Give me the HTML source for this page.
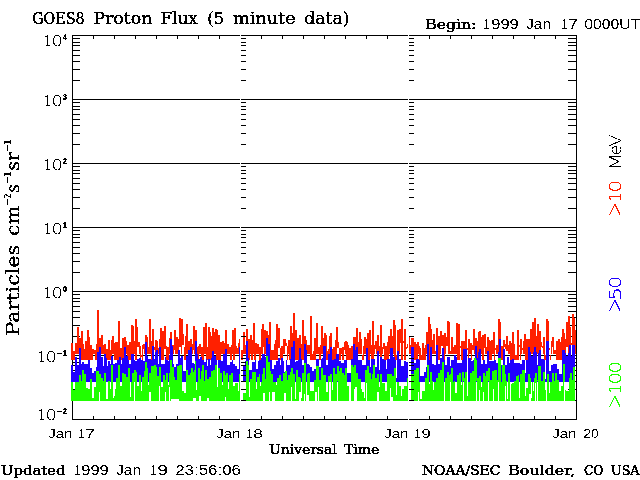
<!DOCTYPE html>
<html lang="en">
<head>
<meta charset="utf-8">
<title>GOES8 Proton Flux (5 minute data)</title>
<style>
html,body{margin:0;padding:0;background:#fff;overflow:hidden}
svg{display:block}
text{white-space:pre}
</style>
</head>
<body>
<svg width="640" height="480" viewBox="0 0 640 480">
<defs>
<filter id="fa" x="0" y="0" width="640" height="480" filterUnits="userSpaceOnUse" color-interpolation-filters="sRGB"><feComponentTransfer><feFuncA type="discrete" tableValues="0 1"/></feComponentTransfer></filter>
<filter id="fb" x="0" y="0" width="640" height="480" filterUnits="userSpaceOnUse" color-interpolation-filters="sRGB"><feComponentTransfer><feFuncA type="discrete" tableValues="0 1 1 1 1 1"/></feComponentTransfer></filter>
<filter id="fc" x="0" y="0" width="640" height="480" filterUnits="userSpaceOnUse" color-interpolation-filters="sRGB"><feComponentTransfer><feFuncA type="discrete" tableValues="0 1 1 1"/></feComponentTransfer></filter>
<filter id="fd" x="0" y="0" width="640" height="480" filterUnits="userSpaceOnUse" color-interpolation-filters="sRGB"><feComponentTransfer><feFuncA type="discrete" tableValues="0 0 0 1 1"/></feComponentTransfer></filter>
<filter id="fe" x="0" y="0" width="640" height="480" filterUnits="userSpaceOnUse" color-interpolation-filters="sRGB"><feComponentTransfer><feFuncA type="discrete" tableValues="0 1 1"/></feComponentTransfer></filter>
</defs>
<rect width="640" height="480" fill="#fff"/>
<g shape-rendering="crispEdges">
<path fill="#000" d="M72 35h505v1h-505zM72 419h505v1h-505zM72 35h1v385h-1zM72 355h505v1h-505zM72 291h505v1h-505zM72 227h505v1h-505zM72 163h505v1h-505zM72 99h505v1h-505zM72 400h8v1h-8zM72 389h8v1h-8zM72 381h8v1h-8zM72 375h8v1h-8zM72 370h8v1h-8zM72 365h8v1h-8zM72 362h8v1h-8zM72 358h8v1h-8zM72 336h8v1h-8zM72 325h8v1h-8zM72 317h8v1h-8zM72 311h8v1h-8zM72 306h8v1h-8zM72 301h8v1h-8zM72 298h8v1h-8zM72 294h8v1h-8zM72 272h8v1h-8zM72 261h8v1h-8zM72 253h8v1h-8zM72 247h8v1h-8zM72 242h8v1h-8zM72 237h8v1h-8zM72 234h8v1h-8zM72 230h8v1h-8zM72 208h8v1h-8zM72 197h8v1h-8zM72 189h8v1h-8zM72 183h8v1h-8zM72 178h8v1h-8zM72 173h8v1h-8zM72 170h8v1h-8zM72 166h8v1h-8zM72 144h8v1h-8zM72 133h8v1h-8zM72 125h8v1h-8zM72 119h8v1h-8zM72 114h8v1h-8zM72 109h8v1h-8zM72 106h8v1h-8zM72 102h8v1h-8zM72 80h8v1h-8zM72 69h8v1h-8zM72 61h8v1h-8zM72 55h8v1h-8zM72 50h8v1h-8zM72 45h8v1h-8zM72 42h8v1h-8zM72 38h8v1h-8zM93 35h1v4h-1zM93 416h1v4h-1zM114 35h1v4h-1zM114 416h1v4h-1zM135 35h1v4h-1zM135 416h1v4h-1zM156 35h1v4h-1zM156 416h1v4h-1zM177 35h1v4h-1zM177 416h1v4h-1zM198 35h1v4h-1zM198 416h1v4h-1zM219 35h1v4h-1zM219 416h1v4h-1zM261 35h1v4h-1zM261 416h1v4h-1zM282 35h1v4h-1zM282 416h1v4h-1zM303 35h1v4h-1zM303 416h1v4h-1zM324 35h1v4h-1zM324 416h1v4h-1zM345 35h1v4h-1zM345 416h1v4h-1zM366 35h1v4h-1zM366 416h1v4h-1zM387 35h1v4h-1zM387 416h1v4h-1zM429 35h1v4h-1zM429 416h1v4h-1zM450 35h1v4h-1zM450 416h1v4h-1zM471 35h1v4h-1zM471 416h1v4h-1zM492 35h1v4h-1zM492 416h1v4h-1zM513 35h1v4h-1zM513 416h1v4h-1zM534 35h1v4h-1zM534 416h1v4h-1zM555 35h1v4h-1zM555 416h1v4h-1zM568 400h8v1h-8zM568 389h8v1h-8zM568 381h8v1h-8zM568 375h8v1h-8zM568 370h8v1h-8zM568 365h8v1h-8zM568 362h8v1h-8zM568 358h8v1h-8zM568 336h8v1h-8zM568 325h8v1h-8zM568 317h8v1h-8zM568 311h8v1h-8zM568 306h8v1h-8zM568 301h8v1h-8zM568 298h8v1h-8zM568 294h8v1h-8zM568 272h8v1h-8zM568 261h8v1h-8zM568 253h8v1h-8zM568 247h8v1h-8zM568 242h8v1h-8zM568 237h8v1h-8zM568 234h8v1h-8zM568 230h8v1h-8zM568 208h8v1h-8zM568 197h8v1h-8zM568 189h8v1h-8zM568 183h8v1h-8zM568 178h8v1h-8zM568 173h8v1h-8zM568 170h8v1h-8zM568 166h8v1h-8zM568 144h8v1h-8zM568 133h8v1h-8zM568 125h8v1h-8zM568 119h8v1h-8zM568 114h8v1h-8zM568 109h8v1h-8zM568 106h8v1h-8zM568 102h8v1h-8zM568 80h8v1h-8zM568 69h8v1h-8zM568 61h8v1h-8zM568 55h8v1h-8zM568 50h8v1h-8zM568 45h8v1h-8zM568 42h8v1h-8zM568 38h8v1h-8z"/>
<path fill="#ff2000" d="M71 343h2v17h-2zM73 351h2v9h-2zM75 343h2v11h-2zM77 327h2v27h-2zM79 338h2v16h-2zM81 331h2v29h-2zM83 344h1v16h-1zM84 349h1v11h-1zM85 341h2v19h-2zM87 330h2v30h-2zM89 337h1v23h-1zM90 345h2v15h-2zM92 349h1v11h-1zM93 349h1v5h-1zM94 350h1v4h-1zM95 350h1v10h-1zM96 344h1v16h-1zM97 310h2v44h-2zM99 338h2v16h-2zM101 335h2v19h-2zM103 345h1v9h-1zM104 344h2v10h-2zM106 349h2v11h-2zM108 340h2v20h-2zM110 350h1v10h-1zM111 340h1v20h-1zM112 336h2v18h-2zM114 343h1v17h-1zM115 342h3v18h-3zM118 321h2v39h-2zM120 348h2v12h-2zM122 338h2v22h-2zM124 337h2v17h-2zM126 341h1v13h-1zM127 345h2v15h-2zM129 342h2v18h-2zM131 325h2v29h-2zM133 326h1v28h-1zM134 341h1v13h-1zM135 319h2v41h-2zM137 327h1v20h-1zM138 342h1v5h-1zM139 342h1v12h-1zM140 346h1v14h-1zM141 355h1v2h-1zM142 345h1v15h-1zM143 344h1v5h-1zM144 344h1v10h-1zM145 335h2v19h-2zM147 337h1v17h-1zM148 347h1v7h-1zM149 319h2v35h-2zM151 341h1v19h-1zM152 329h2v25h-2zM154 347h1v3h-1zM155 340h2v14h-2zM157 341h1v13h-1zM158 348h1v6h-1zM159 339h1v15h-1zM160 328h1v26h-1zM161 328h1v32h-1zM162 331h2v29h-2zM164 326h2v23h-2zM166 346h1v14h-1zM167 347h2v13h-2zM169 338h1v16h-1zM170 332h2v22h-2zM172 345h2v9h-2zM174 330h1v20h-1zM175 330h1v24h-1zM176 337h2v17h-2zM178 339h1v15h-1zM179 318h2v29h-2zM181 319h1v35h-1zM182 319h1v26h-1zM183 334h1v11h-1zM184 347h1v13h-1zM185 336h1v24h-1zM186 324h2v30h-2zM188 341h2v13h-2zM190 339h2v15h-2zM192 344h1v10h-1zM193 326h1v24h-1zM194 326h1v28h-1zM195 330h2v30h-2zM197 347h1v13h-1zM198 346h1v14h-1zM199 344h2v10h-2zM201 347h2v13h-2zM203 327h1v33h-1zM204 327h1v27h-1zM205 323h1v31h-1zM206 323h1v37h-1zM207 347h1v13h-1zM208 327h2v33h-2zM210 332h1v28h-1zM211 336h1v24h-1zM212 328h2v26h-2zM214 332h1v22h-1zM215 329h1v25h-1zM216 329h1v31h-1zM217 330h1v30h-1zM218 335h2v25h-2zM220 342h1v18h-1zM221 342h1v12h-1zM222 341h2v13h-2zM224 343h1v11h-1zM225 330h2v24h-2zM227 344h2v10h-2zM229 347h1v7h-1zM230 347h1v13h-1zM231 345h1v15h-1zM232 330h1v24h-1zM233 330h1v30h-1zM234 328h1v32h-1zM235 328h1v26h-1zM236 346h1v8h-1zM237 348h1v6h-1zM238 343h1v11h-1zM239 339h2v15h-2zM241 350h2v10h-2zM243 332h2v22h-2zM245 345h1v9h-1zM246 329h2v25h-2zM248 339h2v21h-2zM250 335h1v19h-1zM251 335h1v25h-1zM252 340h1v20h-1zM253 323h1v31h-1zM254 323h1v37h-1zM255 343h1v17h-1zM256 343h1v11h-1zM257 344h2v10h-2zM259 347h2v13h-2zM261 329h1v25h-1zM262 324h1v30h-1zM263 324h1v23h-1zM264 330h2v24h-2zM266 331h2v23h-2zM268 335h1v19h-1zM269 322h1v32h-1zM270 322h1v38h-1zM271 350h3v10h-3zM274 344h1v16h-1zM275 340h1v20h-1zM276 324h2v36h-2zM278 328h2v20h-2zM280 348h1v12h-1zM281 346h2v14h-2zM283 339h2v15h-2zM285 339h1v7h-1zM286 343h1v3h-1zM287 346h1v14h-1zM288 340h1v14h-1zM289 340h1v20h-1zM290 326h1v34h-1zM291 326h1v28h-1zM292 333h1v21h-1zM293 313h2v41h-2zM295 330h2v30h-2zM297 338h2v22h-2zM299 335h2v19h-2zM301 344h1v16h-1zM302 320h2v40h-2zM304 336h2v18h-2zM306 340h1v14h-1zM307 345h3v9h-3zM310 316h2v44h-2zM312 354h1v6h-1zM313 351h1v9h-1zM314 338h2v22h-2zM316 323h2v31h-2zM318 347h1v7h-1zM319 347h1v13h-1zM320 345h1v15h-1zM321 326h2v28h-2zM323 338h1v16h-1zM324 333h2v21h-2zM326 335h1v25h-1zM327 351h1v9h-1zM328 349h1v5h-1zM329 336h1v18h-1zM330 333h2v21h-2zM332 349h1v11h-1zM333 347h2v13h-2zM335 340h1v20h-1zM336 327h1v27h-1zM337 327h1v21h-1zM338 342h1v6h-1zM339 348h2v12h-2zM341 348h1v6h-1zM342 347h2v13h-2zM344 342h1v8h-1zM345 341h1v13h-1zM346 341h1v19h-1zM347 342h1v18h-1zM348 345h1v15h-1zM349 348h2v12h-2zM351 346h2v14h-2zM353 337h2v17h-2zM355 337h1v13h-1zM356 328h2v32h-2zM358 342h1v12h-1zM359 332h2v22h-2zM361 339h1v15h-1zM362 355h1v5h-1zM363 346h1v14h-1zM364 337h2v17h-2zM366 339h1v15h-1zM367 333h1v21h-1zM368 333h1v27h-1zM369 330h1v30h-1zM370 330h1v24h-1zM371 345h1v15h-1zM372 321h2v39h-2zM374 345h1v9h-1zM375 341h1v8h-1zM376 341h1v13h-1zM377 335h2v19h-2zM379 346h1v8h-1zM380 325h2v35h-2zM382 347h1v7h-1zM383 343h1v6h-1zM384 343h1v17h-1zM385 346h2v14h-2zM387 342h1v18h-1zM388 336h1v24h-1zM389 336h1v18h-1zM390 329h2v25h-2zM392 336h1v18h-1zM393 320h1v34h-1zM394 320h1v40h-1zM395 325h1v35h-1zM396 355h1v5h-1zM397 330h2v24h-2zM399 329h1v25h-1zM400 329h1v14h-1zM401 319h2v41h-2zM403 341h1v2h-1zM404 329h2v31h-2zM406 347h1v2h-1zM407 344h1v4h-1zM408 344h1v10h-1zM409 337h1v17h-1zM410 345h1v9h-1zM411 338h3v16h-3zM414 342h2v18h-2zM416 344h1v16h-1zM417 342h1v18h-1zM418 342h1v12h-1zM419 346h1v14h-1zM420 348h1v12h-1zM421 355h1v5h-1zM422 343h2v17h-2zM424 348h1v12h-1zM425 345h1v15h-1zM426 332h2v22h-2zM428 317h1v37h-1zM429 317h1v43h-1zM430 324h1v30h-1zM431 329h1v25h-1zM432 340h1v14h-1zM433 334h2v20h-2zM435 351h1v3h-1zM436 328h2v26h-2zM438 336h2v24h-2zM440 331h1v23h-1zM441 331h1v15h-1zM442 335h1v11h-1zM443 335h1v19h-1zM444 333h1v27h-1zM445 333h1v21h-1zM446 337h1v9h-1zM447 321h1v25h-1zM448 321h1v33h-1zM449 322h1v32h-1zM450 351h1v3h-1zM451 337h2v17h-2zM453 347h1v7h-1zM454 345h2v9h-2zM456 323h1v31h-1zM457 323h1v37h-1zM458 324h2v36h-2zM460 346h1v2h-1zM461 341h2v19h-2zM463 341h2v13h-2zM465 330h2v24h-2zM467 348h1v2h-1zM468 339h1v21h-1zM469 339h1v15h-1zM470 343h1v11h-1zM471 343h1v17h-1zM472 345h1v5h-1zM473 329h1v21h-1zM474 329h1v25h-1zM475 338h2v16h-2zM477 341h1v19h-1zM478 332h1v22h-1zM479 331h2v23h-2zM481 337h1v17h-1zM482 335h2v25h-2zM484 334h1v14h-1zM485 334h1v20h-1zM486 347h1v7h-1zM487 337h2v17h-2zM489 340h1v20h-1zM490 341h1v19h-1zM491 340h1v20h-1zM492 340h1v14h-1zM493 332h1v22h-1zM494 332h1v28h-1zM495 348h1v2h-1zM496 345h2v9h-2zM498 319h2v35h-2zM500 322h1v32h-1zM501 346h2v14h-2zM503 340h1v14h-1zM504 340h1v7h-1zM505 344h1v5h-1zM506 336h2v15h-2zM508 345h1v9h-1zM509 341h1v13h-1zM510 341h1v19h-1zM511 343h1v17h-1zM512 332h2v28h-2zM514 344h1v16h-1zM515 355h2v5h-2zM517 330h2v30h-2zM519 345h1v2h-1zM520 339h1v21h-1zM521 339h1v15h-1zM522 348h1v2h-1zM523 341h1v13h-1zM524 334h1v20h-1zM525 334h1v26h-1zM526 339h2v21h-2zM528 339h2v15h-2zM530 329h2v25h-2zM532 322h1v32h-1zM533 322h1v38h-1zM534 318h2v36h-2zM536 336h1v18h-1zM537 324h2v30h-2zM539 331h2v23h-2zM541 342h1v5h-1zM542 346h1v2h-1zM543 337h1v17h-1zM544 337h1v23h-1zM545 355h1v5h-1zM546 319h1v41h-1zM547 319h1v35h-1zM548 321h1v33h-1zM549 348h1v2h-1zM550 355h1v5h-1zM551 341h1v13h-1zM552 337h1v10h-1zM553 337h1v17h-1zM554 350h2v4h-2zM556 341h2v19h-2zM558 339h2v21h-2zM560 342h1v18h-1zM561 337h1v23h-1zM562 329h2v25h-2zM564 333h1v21h-1zM565 339h1v15h-1zM566 322h2v25h-2zM568 316h2v38h-2zM570 327h1v27h-1zM571 343h1v2h-1zM572 314h2v40h-2zM574 318h1v36h-1zM575 330h1v24h-1z"/>
<path fill="#2000ff" d="M71 365h2v17h-2zM73 372h2v10h-2zM75 357h2v25h-2zM77 365h2v17h-2zM79 348h2v34h-2zM81 364h1v18h-1zM82 362h2v20h-2zM84 364h4v18h-4zM88 360h2v22h-2zM90 368h2v14h-2zM92 373h2v9h-2zM94 371h2v11h-2zM96 367h1v15h-1zM97 352h2v30h-2zM99 347h2v35h-2zM101 357h2v25h-2zM103 366h1v16h-1zM104 354h2v28h-2zM106 358h1v24h-1zM107 366h1v16h-1zM108 361h2v21h-2zM110 364h1v18h-1zM111 356h2v26h-2zM113 364h2v18h-2zM115 363h2v19h-2zM117 360h2v22h-2zM119 357h2v25h-2zM121 364h1v18h-1zM122 358h2v24h-2zM124 347h2v35h-2zM126 356h2v26h-2zM128 360h1v22h-1zM129 364h2v18h-2zM131 354h3v28h-3zM134 360h1v22h-1zM135 361h2v21h-2zM137 359h2v23h-2zM139 358h2v24h-2zM141 360h2v22h-2zM143 361h2v21h-2zM145 342h2v40h-2zM147 356h1v26h-1zM148 359h3v23h-3zM151 360h1v22h-1zM152 346h2v36h-2zM154 359h1v23h-1zM155 352h1v30h-1zM156 350h2v32h-2zM158 364h1v18h-1zM159 347h2v35h-2zM161 364h4v18h-4zM165 357h1v25h-1zM166 360h2v22h-2zM168 361h1v21h-1zM169 355h1v27h-1zM170 339h2v43h-2zM172 346h1v36h-1zM173 364h1v18h-1zM174 367h2v15h-2zM176 364h2v18h-2zM178 350h2v32h-2zM180 358h1v24h-1zM181 356h2v26h-2zM183 371h3v11h-3zM186 356h2v26h-2zM188 350h2v32h-2zM190 347h2v35h-2zM192 363h2v19h-2zM194 364h1v18h-1zM195 341h2v41h-2zM197 354h1v28h-1zM198 359h2v23h-2zM200 357h2v25h-2zM202 360h2v22h-2zM204 362h2v20h-2zM206 359h1v23h-1zM207 366h1v16h-1zM208 359h2v23h-2zM210 365h1v17h-1zM211 358h1v24h-1zM212 351h2v31h-2zM214 356h2v26h-2zM216 360h1v22h-1zM218 360h3v22h-3zM221 361h2v21h-2zM223 354h2v28h-2zM225 349h2v33h-2zM227 365h3v17h-3zM230 362h2v20h-2zM232 360h1v22h-1zM233 364h2v18h-2zM235 366h2v16h-2zM237 369h2v13h-2zM239 347h2v35h-2zM243 365h2v17h-2zM245 361h1v21h-1zM246 341h2v41h-2zM248 358h1v24h-1zM249 370h3v12h-3zM252 362h3v20h-3zM255 360h1v22h-1zM256 369h2v13h-2zM258 361h1v21h-1zM259 360h2v22h-2zM261 358h1v24h-1zM262 354h3v28h-3zM265 357h1v25h-1zM266 338h2v44h-2zM268 344h2v38h-2zM270 360h2v22h-2zM272 369h2v13h-2zM274 365h2v17h-2zM276 361h2v21h-2zM278 358h2v24h-2zM280 365h1v17h-1zM281 358h2v24h-2zM283 361h1v21h-1zM284 372h2v10h-2zM286 360h1v22h-1zM287 365h3v17h-3zM290 359h1v23h-1zM291 347h2v35h-2zM293 341h2v41h-2zM295 362h1v20h-1zM296 361h2v21h-2zM298 360h1v22h-1zM299 348h2v34h-2zM301 359h1v23h-1zM302 365h2v17h-2zM304 344h2v38h-2zM306 350h1v32h-1zM307 364h2v18h-2zM309 365h1v17h-1zM310 367h2v15h-2zM312 371h2v11h-2zM314 369h2v13h-2zM316 359h3v23h-3zM319 367h2v15h-2zM321 359h1v23h-1zM322 358h1v24h-1zM323 346h3v36h-3zM326 365h2v17h-2zM328 354h2v28h-2zM330 347h2v35h-2zM332 360h2v22h-2zM334 359h2v23h-2zM336 354h3v28h-3zM339 361h2v21h-2zM341 363h3v19h-3zM344 360h3v22h-3zM347 373h4v9h-4zM351 359h2v23h-2zM353 344h2v38h-2zM355 350h1v32h-1zM356 347h2v35h-2zM358 360h4v22h-4zM362 365h4v17h-4zM366 348h2v34h-2zM368 360h2v22h-2zM370 367h1v15h-1zM371 359h4v23h-4zM375 367h2v15h-2zM377 351h2v31h-2zM379 370h1v12h-1zM380 357h2v25h-2zM382 359h2v23h-2zM384 360h2v22h-2zM386 369h1v13h-1zM387 359h3v23h-3zM390 348h3v34h-3zM393 357h2v25h-2zM395 360h1v22h-1zM396 378h1v4h-1zM397 351h2v31h-2zM399 359h2v23h-2zM401 366h3v16h-3zM404 361h2v21h-2zM406 362h3v20h-3zM411 347h3v35h-3zM414 363h2v19h-2zM416 359h3v23h-3zM419 360h1v22h-1zM420 376h4v6h-4zM424 372h2v10h-2zM426 367h1v15h-1zM427 344h2v38h-2zM429 360h1v22h-1zM430 347h2v35h-2zM432 364h2v18h-2zM434 365h2v17h-2zM436 345h2v37h-2zM438 364h2v18h-2zM440 358h2v24h-2zM442 348h2v34h-2zM444 360h1v22h-1zM445 365h2v17h-2zM447 357h3v25h-3zM450 366h1v16h-1zM451 360h3v22h-3zM454 355h2v27h-2zM456 357h1v25h-1zM457 363h5v19h-5zM462 360h1v22h-1zM463 349h4v33h-4zM468 358h3v24h-3zM471 361h2v21h-2zM473 360h2v22h-2zM475 346h2v36h-2zM477 358h1v24h-1zM478 352h1v30h-1zM479 349h2v33h-2zM481 364h2v18h-2zM483 360h2v22h-2zM485 364h2v18h-2zM487 351h2v31h-2zM489 361h5v21h-5zM494 360h2v22h-2zM496 363h2v19h-2zM498 352h1v30h-1zM499 339h2v43h-2zM501 365h2v17h-2zM503 349h2v33h-2zM505 365h2v17h-2zM507 357h2v25h-2zM509 363h1v19h-1zM510 360h2v22h-2zM512 359h2v23h-2zM514 363h6v19h-6zM520 364h2v18h-2zM522 360h3v22h-3zM525 373h1v9h-1zM526 360h2v22h-2zM528 347h2v35h-2zM530 352h1v30h-1zM531 356h2v26h-2zM533 352h1v30h-1zM534 347h2v35h-2zM536 352h1v30h-1zM537 365h1v17h-1zM538 353h1v29h-1zM539 350h2v32h-2zM541 359h3v23h-3zM544 360h1v22h-1zM545 379h1v3h-1zM546 341h3v41h-3zM549 371h2v11h-2zM551 365h2v17h-2zM553 364h4v18h-4zM557 369h2v13h-2zM559 374h3v8h-3zM562 350h3v32h-3zM565 353h1v29h-1zM566 356h2v26h-2zM568 353h1v29h-1zM569 345h2v37h-2zM571 356h1v26h-1zM572 345h3v37h-3z"/>
<path fill="#20ff00" d="M71 382h2v19h-2zM73 390h2v11h-2zM75 382h4v19h-4zM79 375h2v26h-2zM81 381h1v20h-1zM82 370h2v31h-2zM84 374h2v27h-2zM86 388h2v13h-2zM88 389h2v12h-2zM90 379h2v22h-2zM92 398h2v3h-2zM94 387h2v14h-2zM96 371h3v30h-3zM99 374h1v18h-1zM100 374h1v27h-1zM101 378h2v23h-2zM103 381h1v20h-1zM104 373h2v28h-2zM106 399h2v2h-2zM108 381h2v20h-2zM110 389h1v12h-1zM111 365h2v36h-2zM113 398h1v3h-1zM114 396h1v5h-1zM115 389h1v12h-1zM116 378h2v23h-2zM118 365h2v36h-2zM120 386h2v15h-2zM122 373h2v28h-2zM124 374h2v27h-2zM126 377h2v24h-2zM128 368h2v33h-2zM130 397h1v4h-1zM131 382h1v19h-1zM132 373h2v28h-2zM134 370h1v12h-1zM135 370h1v31h-1zM136 372h1v29h-1zM137 386h2v15h-2zM139 375h2v26h-2zM141 391h1v10h-1zM142 377h2v24h-2zM144 371h1v30h-1zM145 362h2v39h-2zM147 368h1v33h-1zM148 385h1v16h-1zM149 373h2v19h-2zM151 366h3v35h-3zM154 365h2v36h-2zM156 367h1v34h-1zM157 376h2v25h-2zM159 367h1v19h-1zM160 367h1v34h-1zM161 387h2v14h-2zM163 375h2v26h-2zM165 380h1v12h-1zM166 373h2v28h-2zM168 385h1v16h-1zM169 373h1v14h-1zM170 360h1v41h-1zM171 360h1v39h-1zM172 367h2v32h-2zM174 377h1v22h-1zM175 380h2v19h-2zM177 366h2v33h-2zM179 365h3v36h-3zM182 391h2v10h-2zM184 393h2v8h-2zM186 370h2v31h-2zM188 375h2v26h-2zM190 373h1v28h-1zM191 368h2v33h-2zM193 372h1v26h-1zM194 370h1v28h-1zM195 361h1v37h-1zM196 390h1v11h-1zM197 382h1v19h-1zM198 368h1v33h-1zM199 368h1v28h-1zM200 379h1v17h-1zM201 371h1v30h-1zM202 365h2v36h-2zM204 381h1v20h-1zM205 370h2v31h-2zM207 379h2v19h-2zM209 377h2v24h-2zM211 371h2v30h-2zM213 370h2v31h-2zM215 365h2v36h-2zM217 387h1v14h-1zM218 368h2v33h-2zM220 373h2v28h-2zM222 385h1v16h-1zM223 371h2v30h-2zM225 375h1v22h-1zM226 373h2v28h-2zM228 389h1v12h-1zM229 375h2v26h-2zM231 373h2v28h-2zM233 386h2v15h-2zM235 383h3v18h-3zM238 391h1v10h-1zM239 374h2v27h-2zM243 393h3v8h-3zM246 361h2v40h-2zM248 365h1v36h-1zM249 397h1v4h-1zM250 379h2v22h-2zM252 372h4v29h-4zM256 389h1v12h-1zM257 377h2v24h-2zM259 374h1v27h-1zM260 386h1v15h-1zM261 382h1v19h-1zM262 374h1v27h-1zM263 368h2v25h-2zM265 379h1v22h-1zM266 356h2v45h-2zM268 362h1v39h-1zM269 362h1v30h-1zM270 371h1v30h-1zM271 374h1v27h-1zM272 374h1v18h-1zM273 382h2v10h-2zM275 382h1v19h-1zM276 385h1v16h-1zM277 378h2v23h-2zM279 375h2v26h-2zM281 381h2v20h-2zM283 373h1v28h-1zM284 373h1v20h-1zM285 371h1v22h-1zM286 371h1v30h-1zM287 380h1v21h-1zM288 375h2v26h-2zM290 372h1v29h-1zM291 368h1v19h-1zM292 368h1v33h-1zM293 374h2v27h-2zM295 399h1v2h-1zM296 370h2v31h-2zM298 377h1v24h-1zM299 377h1v15h-1zM300 378h1v14h-1zM301 398h1v3h-1zM302 373h2v28h-2zM304 363h1v31h-1zM305 363h1v38h-1zM307 374h1v21h-1zM308 373h1v22h-1zM309 373h1v28h-1zM310 391h4v10h-4zM314 380h1v21h-1zM315 380h1v12h-1zM316 366h1v26h-1zM317 366h1v35h-1zM318 366h1v21h-1zM319 380h2v21h-2zM321 368h2v33h-2zM323 375h3v26h-3zM326 392h2v9h-2zM328 376h1v25h-1zM329 376h1v6h-1zM330 374h1v8h-1zM331 374h1v27h-1zM332 390h1v11h-1zM333 368h2v33h-2zM335 374h2v27h-2zM337 366h1v15h-1zM338 366h1v35h-1zM339 371h1v30h-1zM340 368h2v33h-2zM342 373h2v28h-2zM344 375h1v26h-1zM345 368h2v33h-2zM347 386h2v15h-2zM351 365h2v36h-2zM353 367h1v34h-1zM354 365h1v24h-1zM355 365h1v22h-1zM356 373h1v14h-1zM357 373h1v28h-1zM358 379h3v22h-3zM361 389h1v12h-1zM362 392h2v9h-2zM364 398h1v3h-1zM365 370h1v31h-1zM366 370h1v13h-1zM367 366h2v35h-2zM369 373h2v28h-2zM371 379h1v22h-1zM372 374h1v27h-1zM373 365h2v36h-2zM375 378h2v23h-2zM377 374h2v18h-2zM379 387h1v14h-1zM380 374h2v27h-2zM382 383h3v18h-3zM385 391h2v10h-2zM387 374h3v27h-3zM390 374h1v14h-1zM391 374h1v23h-1zM392 376h1v21h-1zM393 376h1v25h-1zM394 368h2v33h-2zM396 395h1v6h-1zM397 382h2v19h-2zM399 386h2v15h-2zM401 396h1v5h-1zM402 389h2v12h-2zM404 386h3v15h-3zM407 378h2v23h-2zM411 374h3v27h-3zM414 370h2v31h-2zM416 368h2v33h-2zM418 368h1v24h-1zM419 382h1v19h-1zM420 399h2v2h-2zM422 391h3v10h-3zM425 378h2v23h-2zM427 365h2v36h-2zM429 384h1v17h-1zM430 372h2v29h-2zM432 381h1v20h-1zM433 390h1v11h-1zM434 382h2v19h-2zM436 378h2v23h-2zM438 373h2v28h-2zM440 370h2v31h-2zM442 362h2v39h-2zM445 378h2v23h-2zM447 372h2v29h-2zM449 375h1v26h-1zM450 374h1v8h-1zM451 368h2v33h-2zM453 382h1v19h-1zM454 381h1v20h-1zM455 393h2v8h-2zM457 375h2v26h-2zM459 373h2v28h-2zM461 385h1v16h-1zM462 372h1v29h-1zM463 372h1v9h-1zM464 378h1v23h-1zM465 372h2v29h-2zM467 396h1v5h-1zM468 382h2v19h-2zM470 373h2v28h-2zM472 371h2v30h-2zM474 358h2v43h-2zM476 360h1v21h-1zM477 378h2v23h-2zM479 376h1v14h-1zM480 376h1v25h-1zM481 387h1v14h-1zM482 382h1v19h-1zM483 373h1v19h-1zM484 373h1v28h-1zM485 376h1v25h-1zM486 371h2v30h-2zM488 368h1v13h-1zM489 368h1v33h-1zM490 380h2v21h-2zM492 371h1v30h-1zM493 371h1v18h-1zM494 370h3v31h-3zM497 380h1v21h-1zM498 358h1v24h-1zM499 358h2v43h-2zM501 382h1v19h-1zM502 365h3v36h-3zM505 374h1v12h-1zM506 381h1v20h-1zM507 399h1v2h-1zM508 373h2v28h-2zM511 384h1v17h-1zM512 383h2v18h-2zM514 381h2v20h-2zM516 376h2v25h-2zM518 375h1v26h-1zM519 398h1v3h-1zM520 374h2v27h-2zM522 370h3v31h-3zM525 396h1v5h-1zM526 388h2v13h-2zM528 374h1v27h-1zM529 374h1v20h-1zM530 378h1v16h-1zM531 398h1v3h-1zM532 382h1v19h-1zM533 391h1v10h-1zM534 378h1v23h-1zM535 373h1v10h-1zM536 373h1v28h-1zM537 380h1v1h-1zM538 366h3v35h-3zM541 381h2v20h-2zM543 372h2v29h-2zM545 390h1v11h-1zM547 374h2v27h-2zM549 393h1v8h-1zM550 382h2v19h-2zM552 373h2v28h-2zM554 381h1v20h-1zM555 373h2v28h-2zM557 380h2v21h-2zM559 391h2v10h-2zM561 386h2v15h-2zM563 364h1v37h-1zM564 364h1v18h-1zM565 390h1v11h-1zM566 391h3v10h-3zM569 378h1v23h-1zM570 373h2v28h-2zM572 380h1v21h-1zM573 367h2v34h-2z"/>
<path fill="#fff" d="M240 35h1v385h-1zM408 35h1v385h-1z"/>
<path fill="#000" d="M241 400h5v1h-5zM241 389h5v1h-5zM241 381h5v1h-5zM241 375h5v1h-5zM241 370h5v1h-5zM241 365h5v1h-5zM241 362h5v1h-5zM241 358h5v1h-5zM241 336h5v1h-5zM241 325h5v1h-5zM241 317h5v1h-5zM241 311h5v1h-5zM241 306h5v1h-5zM241 301h5v1h-5zM241 298h5v1h-5zM241 294h5v1h-5zM241 272h5v1h-5zM241 261h5v1h-5zM241 253h5v1h-5zM241 247h5v1h-5zM241 242h5v1h-5zM241 237h5v1h-5zM241 234h5v1h-5zM241 230h5v1h-5zM241 208h5v1h-5zM241 197h5v1h-5zM241 189h5v1h-5zM241 183h5v1h-5zM241 178h5v1h-5zM241 173h5v1h-5zM241 170h5v1h-5zM241 166h5v1h-5zM241 144h5v1h-5zM241 133h5v1h-5zM241 125h5v1h-5zM241 119h5v1h-5zM241 114h5v1h-5zM241 109h5v1h-5zM241 106h5v1h-5zM241 102h5v1h-5zM241 80h5v1h-5zM241 69h5v1h-5zM241 61h5v1h-5zM241 55h5v1h-5zM241 50h5v1h-5zM241 45h5v1h-5zM241 42h5v1h-5zM241 38h5v1h-5zM409 400h5v1h-5zM409 389h5v1h-5zM409 381h5v1h-5zM409 375h5v1h-5zM409 370h5v1h-5zM409 365h5v1h-5zM409 362h5v1h-5zM409 358h5v1h-5zM409 336h5v1h-5zM409 325h5v1h-5zM409 317h5v1h-5zM409 311h5v1h-5zM409 306h5v1h-5zM409 301h5v1h-5zM409 298h5v1h-5zM409 294h5v1h-5zM409 272h5v1h-5zM409 261h5v1h-5zM409 253h5v1h-5zM409 247h5v1h-5zM409 242h5v1h-5zM409 237h5v1h-5zM409 234h5v1h-5zM409 230h5v1h-5zM409 208h5v1h-5zM409 197h5v1h-5zM409 189h5v1h-5zM409 183h5v1h-5zM409 178h5v1h-5zM409 173h5v1h-5zM409 170h5v1h-5zM409 166h5v1h-5zM409 144h5v1h-5zM409 133h5v1h-5zM409 125h5v1h-5zM409 119h5v1h-5zM409 114h5v1h-5zM409 109h5v1h-5zM409 106h5v1h-5zM409 102h5v1h-5zM409 80h5v1h-5zM409 69h5v1h-5zM409 61h5v1h-5zM409 55h5v1h-5zM409 50h5v1h-5zM409 45h5v1h-5zM409 42h5v1h-5zM409 38h5v1h-5zM576 35h1v385h-1z"/>
</g>
<g filter="url(#fc)"><text><tspan x="32.2" y="24" textLength="52.35" lengthAdjust="spacingAndGlyphs" font-family="'DejaVu Serif','Liberation Serif',serif" font-size="16.5">GOES8</tspan> <tspan x="93.2" y="24" textLength="59.19" lengthAdjust="spacingAndGlyphs" font-family="'DejaVu Serif','Liberation Serif',serif" font-size="16.5">Proton</tspan> <tspan x="160.2" y="24" textLength="37.69" lengthAdjust="spacingAndGlyphs" font-family="'DejaVu Serif','Liberation Serif',serif" font-size="16.5">Flux</tspan> <tspan x="207.2" y="24" textLength="16.94" lengthAdjust="spacingAndGlyphs" font-family="'DejaVu Serif','Liberation Serif',serif" font-size="16.5">(5</tspan> <tspan x="233.0" y="24" textLength="62.62" lengthAdjust="spacingAndGlyphs" font-family="'DejaVu Serif','Liberation Serif',serif" font-size="16.5">minute</tspan> <tspan x="304.2" y="24" textLength="45.43" lengthAdjust="spacingAndGlyphs" font-family="'DejaVu Serif','Liberation Serif',serif" font-size="16.5">data)</tspan></text></g>
<g filter="url(#fb)"><text><tspan x="425.2" y="29" textLength="51.08" lengthAdjust="spacingAndGlyphs" font-family="'DejaVu Serif','Liberation Serif',serif" font-size="13.5">Begin:</tspan></text></g>
<g filter="url(#fa)"><text><tspan x="483.2" y="29" textLength="6.5" lengthAdjust="spacingAndGlyphs" font-family="'Liberation Sans','DejaVu Sans',sans-serif" font-size="14">1</tspan><tspan x="491.2" y="29" textLength="27.61" lengthAdjust="spacingAndGlyphs" font-family="'Liberation Sans','DejaVu Sans',sans-serif" font-size="14">999</tspan> <tspan x="526.2" y="29" textLength="24.73" lengthAdjust="spacingAndGlyphs" font-family="'Liberation Sans','DejaVu Sans',sans-serif" font-size="14">Jan</tspan> <tspan x="561.2" y="29" textLength="6.5" lengthAdjust="spacingAndGlyphs" font-family="'Liberation Sans','DejaVu Sans',sans-serif" font-size="14">1</tspan><tspan x="568.2" y="29" textLength="9.6" lengthAdjust="spacingAndGlyphs" font-family="'Liberation Sans','DejaVu Sans',sans-serif" font-size="14">7</tspan> <tspan x="584.2" y="29" textLength="56.28" lengthAdjust="spacingAndGlyphs" font-family="'Liberation Sans','DejaVu Sans',sans-serif" font-size="14">0000UT</tspan></text></g>
<g filter="url(#fe)"><text text-rendering="geometricPrecision"><tspan x="43.4" y="46" textLength="8.43" lengthAdjust="spacingAndGlyphs" font-family="'DejaVu Sans','Liberation Sans',sans-serif" font-size="14.5" font-weight="200">1</tspan><tspan x="51.4" y="46" textLength="11.35" lengthAdjust="spacingAndGlyphs" font-family="'DejaVu Sans','Liberation Sans',sans-serif" font-size="14.5" font-weight="200">0</tspan></text></g>
<g filter="url(#fc)"><text><tspan x="63.0" y="40" textLength="3.79" lengthAdjust="spacingAndGlyphs" font-family="'Liberation Sans','DejaVu Sans',sans-serif" font-size="8.5" font-weight="bold">4</tspan></text></g>
<g filter="url(#fe)"><text text-rendering="geometricPrecision"><tspan x="43.4" y="106" textLength="8.43" lengthAdjust="spacingAndGlyphs" font-family="'DejaVu Sans','Liberation Sans',sans-serif" font-size="14.5" font-weight="200">1</tspan><tspan x="51.4" y="106" textLength="11.35" lengthAdjust="spacingAndGlyphs" font-family="'DejaVu Sans','Liberation Sans',sans-serif" font-size="14.5" font-weight="200">0</tspan></text></g>
<g filter="url(#fc)"><text><tspan x="63.0" y="100" textLength="3.79" lengthAdjust="spacingAndGlyphs" font-family="'Liberation Sans','DejaVu Sans',sans-serif" font-size="8.5" font-weight="bold">3</tspan></text></g>
<g filter="url(#fe)"><text text-rendering="geometricPrecision"><tspan x="43.4" y="170" textLength="8.43" lengthAdjust="spacingAndGlyphs" font-family="'DejaVu Sans','Liberation Sans',sans-serif" font-size="14.5" font-weight="200">1</tspan><tspan x="51.4" y="170" textLength="11.35" lengthAdjust="spacingAndGlyphs" font-family="'DejaVu Sans','Liberation Sans',sans-serif" font-size="14.5" font-weight="200">0</tspan></text></g>
<g filter="url(#fc)"><text><tspan x="63.0" y="164" textLength="3.79" lengthAdjust="spacingAndGlyphs" font-family="'Liberation Sans','DejaVu Sans',sans-serif" font-size="8.5" font-weight="bold">2</tspan></text></g>
<g filter="url(#fe)"><text text-rendering="geometricPrecision"><tspan x="43.4" y="234" textLength="8.43" lengthAdjust="spacingAndGlyphs" font-family="'DejaVu Sans','Liberation Sans',sans-serif" font-size="14.5" font-weight="200">1</tspan><tspan x="51.4" y="234" textLength="11.35" lengthAdjust="spacingAndGlyphs" font-family="'DejaVu Sans','Liberation Sans',sans-serif" font-size="14.5" font-weight="200">0</tspan></text></g>
<g filter="url(#fc)"><text><tspan x="63.0" y="228" textLength="3.79" lengthAdjust="spacingAndGlyphs" font-family="'Liberation Sans','DejaVu Sans',sans-serif" font-size="8.5" font-weight="bold">1</tspan></text></g>
<g filter="url(#fe)"><text text-rendering="geometricPrecision"><tspan x="43.4" y="298" textLength="8.43" lengthAdjust="spacingAndGlyphs" font-family="'DejaVu Sans','Liberation Sans',sans-serif" font-size="14.5" font-weight="200">1</tspan><tspan x="51.4" y="298" textLength="11.35" lengthAdjust="spacingAndGlyphs" font-family="'DejaVu Sans','Liberation Sans',sans-serif" font-size="14.5" font-weight="200">0</tspan></text></g>
<g filter="url(#fc)"><text><tspan x="63.0" y="292" textLength="3.79" lengthAdjust="spacingAndGlyphs" font-family="'Liberation Sans','DejaVu Sans',sans-serif" font-size="8.5" font-weight="bold">0</tspan></text></g>
<g filter="url(#fe)"><text text-rendering="geometricPrecision"><tspan x="37.4" y="362" textLength="8.43" lengthAdjust="spacingAndGlyphs" font-family="'DejaVu Sans','Liberation Sans',sans-serif" font-size="14.5" font-weight="200">1</tspan><tspan x="45.4" y="362" textLength="11.35" lengthAdjust="spacingAndGlyphs" font-family="'DejaVu Sans','Liberation Sans',sans-serif" font-size="14.5" font-weight="200">0</tspan></text></g>
<g filter="url(#fc)"><text><tspan x="56.2" y="356" textLength="6.58" lengthAdjust="spacingAndGlyphs" font-family="'Liberation Sans','DejaVu Sans',sans-serif" font-size="9">−</tspan><tspan x="63.0" y="356" textLength="3.79" lengthAdjust="spacingAndGlyphs" font-family="'Liberation Sans','DejaVu Sans',sans-serif" font-size="8.5" font-weight="bold">1</tspan></text></g>
<g filter="url(#fe)"><text text-rendering="geometricPrecision"><tspan x="37.4" y="420" textLength="8.43" lengthAdjust="spacingAndGlyphs" font-family="'DejaVu Sans','Liberation Sans',sans-serif" font-size="14.5" font-weight="200">1</tspan><tspan x="45.4" y="420" textLength="11.35" lengthAdjust="spacingAndGlyphs" font-family="'DejaVu Sans','Liberation Sans',sans-serif" font-size="14.5" font-weight="200">0</tspan></text></g>
<g filter="url(#fc)"><text><tspan x="56.2" y="414" textLength="6.58" lengthAdjust="spacingAndGlyphs" font-family="'Liberation Sans','DejaVu Sans',sans-serif" font-size="9">−</tspan><tspan x="63.0" y="414" textLength="3.79" lengthAdjust="spacingAndGlyphs" font-family="'Liberation Sans','DejaVu Sans',sans-serif" font-size="8.5" font-weight="bold">2</tspan></text></g>
<g filter="url(#fa)"><text><tspan x="48.2" y="438" textLength="24.28" lengthAdjust="spacingAndGlyphs" font-family="'Liberation Sans','DejaVu Sans',sans-serif" font-size="13">Jan</tspan> <tspan x="78.2" y="438" textLength="6.83" lengthAdjust="spacingAndGlyphs" font-family="'Liberation Sans','DejaVu Sans',sans-serif" font-size="13">1</tspan><tspan x="85.2" y="438" textLength="9.65" lengthAdjust="spacingAndGlyphs" font-family="'Liberation Sans','DejaVu Sans',sans-serif" font-size="13">7</tspan></text></g>
<g filter="url(#fa)"><text><tspan x="216.2" y="438" textLength="24.28" lengthAdjust="spacingAndGlyphs" font-family="'Liberation Sans','DejaVu Sans',sans-serif" font-size="13">Jan</tspan> <tspan x="246.2" y="438" textLength="6.83" lengthAdjust="spacingAndGlyphs" font-family="'Liberation Sans','DejaVu Sans',sans-serif" font-size="13">1</tspan><tspan x="253.2" y="438" textLength="9.65" lengthAdjust="spacingAndGlyphs" font-family="'Liberation Sans','DejaVu Sans',sans-serif" font-size="13">8</tspan></text></g>
<g filter="url(#fa)"><text><tspan x="384.2" y="438" textLength="24.28" lengthAdjust="spacingAndGlyphs" font-family="'Liberation Sans','DejaVu Sans',sans-serif" font-size="13">Jan</tspan> <tspan x="414.2" y="438" textLength="6.83" lengthAdjust="spacingAndGlyphs" font-family="'Liberation Sans','DejaVu Sans',sans-serif" font-size="13">1</tspan><tspan x="421.2" y="438" textLength="9.65" lengthAdjust="spacingAndGlyphs" font-family="'Liberation Sans','DejaVu Sans',sans-serif" font-size="13">9</tspan></text></g>
<g filter="url(#fa)"><text><tspan x="552.2" y="438" textLength="24.28" lengthAdjust="spacingAndGlyphs" font-family="'Liberation Sans','DejaVu Sans',sans-serif" font-size="13">Jan</tspan> <tspan x="583.2" y="438" textLength="15.58" lengthAdjust="spacingAndGlyphs" font-family="'Liberation Sans','DejaVu Sans',sans-serif" font-size="13">20</tspan></text></g>
<g filter="url(#fb)"><text><tspan x="269.0" y="454" textLength="67.76" lengthAdjust="spacingAndGlyphs" font-family="'DejaVu Serif','Liberation Serif',serif" font-size="13.5">Universal</tspan> <tspan x="344.0" y="454" textLength="35.13" lengthAdjust="spacingAndGlyphs" font-family="'DejaVu Serif','Liberation Serif',serif" font-size="13.5">Time</tspan></text></g>
<g filter="url(#fb)"><text><tspan x="1.0" y="475" textLength="64.56" lengthAdjust="spacingAndGlyphs" font-family="'DejaVu Serif','Liberation Serif',serif" font-size="13.5">Updated</tspan></text></g>
<g filter="url(#fa)"><text><tspan x="74.2" y="475" textLength="6.5" lengthAdjust="spacingAndGlyphs" font-family="'Liberation Sans','DejaVu Sans',sans-serif" font-size="14">1</tspan><tspan x="81.2" y="475" textLength="27.61" lengthAdjust="spacingAndGlyphs" font-family="'Liberation Sans','DejaVu Sans',sans-serif" font-size="14">999</tspan> <tspan x="116.2" y="475" textLength="24.73" lengthAdjust="spacingAndGlyphs" font-family="'Liberation Sans','DejaVu Sans',sans-serif" font-size="14">Jan</tspan> <tspan x="150.2" y="475" textLength="6.5" lengthAdjust="spacingAndGlyphs" font-family="'Liberation Sans','DejaVu Sans',sans-serif" font-size="14">1</tspan><tspan x="157.2" y="475" textLength="10.9" lengthAdjust="spacingAndGlyphs" font-family="'Liberation Sans','DejaVu Sans',sans-serif" font-size="14">9</tspan> <tspan x="175.2" y="475" textLength="65.81" lengthAdjust="spacingAndGlyphs" font-family="'Liberation Sans','DejaVu Sans',sans-serif" font-size="14">23:56:06</tspan></text></g>
<g filter="url(#fb)"><text><tspan x="422.0" y="475" textLength="78.37" lengthAdjust="spacingAndGlyphs" font-family="'DejaVu Serif','Liberation Serif',serif" font-size="13.5">NOAA/SEC</tspan> <tspan x="508.2" y="475" textLength="66.91" lengthAdjust="spacingAndGlyphs" font-family="'DejaVu Serif','Liberation Serif',serif" font-size="13.5">Boulder,</tspan> <tspan x="584.0" y="475" textLength="19.37" lengthAdjust="spacingAndGlyphs" font-family="'DejaVu Serif','Liberation Serif',serif" font-size="13.5">CO</tspan> <tspan x="611.0" y="475" textLength="28.42" lengthAdjust="spacingAndGlyphs" font-family="'DejaVu Serif','Liberation Serif',serif" font-size="13.5">USA</tspan></text></g>
<g filter="url(#fe)"><g transform="translate(19 335) rotate(-90)"><text text-rendering="geometricPrecision"><tspan x="-0.8" y="0" textLength="90.93" lengthAdjust="spacingAndGlyphs" font-family="'DejaVu Serif','Liberation Serif',serif" font-size="18">Particles</tspan> <tspan x="99.2" y="0" textLength="30.29" lengthAdjust="spacingAndGlyphs" font-family="'DejaVu Serif','Liberation Serif',serif" font-size="18">cm</tspan><tspan x="129.2" y="-8" textLength="8.39" lengthAdjust="spacingAndGlyphs" font-family="'DejaVu Serif','Liberation Serif',serif" font-size="10">−</tspan><tspan x="136.2" y="-8" textLength="5.25" lengthAdjust="spacingAndGlyphs" font-family="'DejaVu Serif','Liberation Serif',serif" font-size="9.5">2</tspan><tspan x="142.2" y="0" textLength="8.45" lengthAdjust="spacingAndGlyphs" font-family="'DejaVu Serif','Liberation Serif',serif" font-size="18">s</tspan><tspan x="151.2" y="-8" textLength="8.39" lengthAdjust="spacingAndGlyphs" font-family="'DejaVu Serif','Liberation Serif',serif" font-size="10">−</tspan><tspan x="157.4" y="-8" textLength="6.85" lengthAdjust="spacingAndGlyphs" font-family="'DejaVu Serif','Liberation Serif',serif" font-size="9.5">1</tspan><tspan x="164.2" y="0" textLength="18.89" lengthAdjust="spacingAndGlyphs" font-family="'DejaVu Serif','Liberation Serif',serif" font-size="18">sr</tspan><tspan x="183.2" y="-8" textLength="8.39" lengthAdjust="spacingAndGlyphs" font-family="'DejaVu Serif','Liberation Serif',serif" font-size="10">−</tspan><tspan x="189.4" y="-8" textLength="6.85" lengthAdjust="spacingAndGlyphs" font-family="'DejaVu Serif','Liberation Serif',serif" font-size="9.5">1</tspan></text></g></g>
<g filter="url(#fe)"><g transform="translate(621 215) rotate(-90)"><text text-rendering="geometricPrecision"><tspan x="-1.6" y="1" textLength="14.14" lengthAdjust="spacingAndGlyphs" font-family="'DejaVu Sans','Liberation Sans',sans-serif" font-size="23" font-weight="200" fill="#ff2000">&gt;</tspan><tspan x="13.4" y="0" textLength="9.0" lengthAdjust="spacingAndGlyphs" font-family="'DejaVu Sans','Liberation Sans',sans-serif" font-size="16.5" font-weight="200" fill="#ff2000">1</tspan><tspan x="22.4" y="0" textLength="12.61" lengthAdjust="spacingAndGlyphs" font-family="'DejaVu Sans','Liberation Sans',sans-serif" font-size="16.5" font-weight="200" fill="#ff2000">0</tspan></text></g></g>
<g filter="url(#fe)"><g transform="translate(621 311) rotate(-90)"><text text-rendering="geometricPrecision"><tspan x="-1.6" y="1" textLength="14.14" lengthAdjust="spacingAndGlyphs" font-family="'DejaVu Sans','Liberation Sans',sans-serif" font-size="23" font-weight="200" fill="#2000ff">&gt;</tspan><tspan x="10.6" y="0" textLength="13.5" lengthAdjust="spacingAndGlyphs" font-family="'DejaVu Sans','Liberation Sans',sans-serif" font-size="16.5" font-weight="200" fill="#2000ff">5</tspan><tspan x="22.4" y="0" textLength="12.61" lengthAdjust="spacingAndGlyphs" font-family="'DejaVu Sans','Liberation Sans',sans-serif" font-size="16.5" font-weight="200" fill="#2000ff">0</tspan></text></g></g>
<g filter="url(#fe)"><g transform="translate(621 407) rotate(-90)"><text text-rendering="geometricPrecision"><tspan x="-1.6" y="1" textLength="14.14" lengthAdjust="spacingAndGlyphs" font-family="'DejaVu Sans','Liberation Sans',sans-serif" font-size="23" font-weight="200" fill="#20ff00">&gt;</tspan><tspan x="13.4" y="0" textLength="9.0" lengthAdjust="spacingAndGlyphs" font-family="'DejaVu Sans','Liberation Sans',sans-serif" font-size="16.5" font-weight="200" fill="#20ff00">1</tspan><tspan x="22.4" y="0" textLength="12.61" lengthAdjust="spacingAndGlyphs" font-family="'DejaVu Sans','Liberation Sans',sans-serif" font-size="16.5" font-weight="200" fill="#20ff00">0</tspan><tspan x="33.4" y="0" textLength="12.61" lengthAdjust="spacingAndGlyphs" font-family="'DejaVu Sans','Liberation Sans',sans-serif" font-size="16.5" font-weight="200" fill="#20ff00">0</tspan></text></g></g>
<g filter="url(#fa)"><g transform="translate(621 215) rotate(-90)"><text text-rendering="geometricPrecision"><tspan x="44.8" y="0" textLength="17.42" lengthAdjust="spacingAndGlyphs" font-family="'DejaVu Sans','Liberation Sans',sans-serif" font-size="16.5" font-weight="200">M</tspan><tspan x="59.4" y="0" textLength="10.96" lengthAdjust="spacingAndGlyphs" font-family="'DejaVu Sans','Liberation Sans',sans-serif" font-size="16.5" font-weight="200">e</tspan><tspan x="68.2" y="0" textLength="12.43" lengthAdjust="spacingAndGlyphs" font-family="'DejaVu Sans','Liberation Sans',sans-serif" font-size="16.5" font-weight="200">V</tspan></text></g></g>
</svg>
</body>
</html>
